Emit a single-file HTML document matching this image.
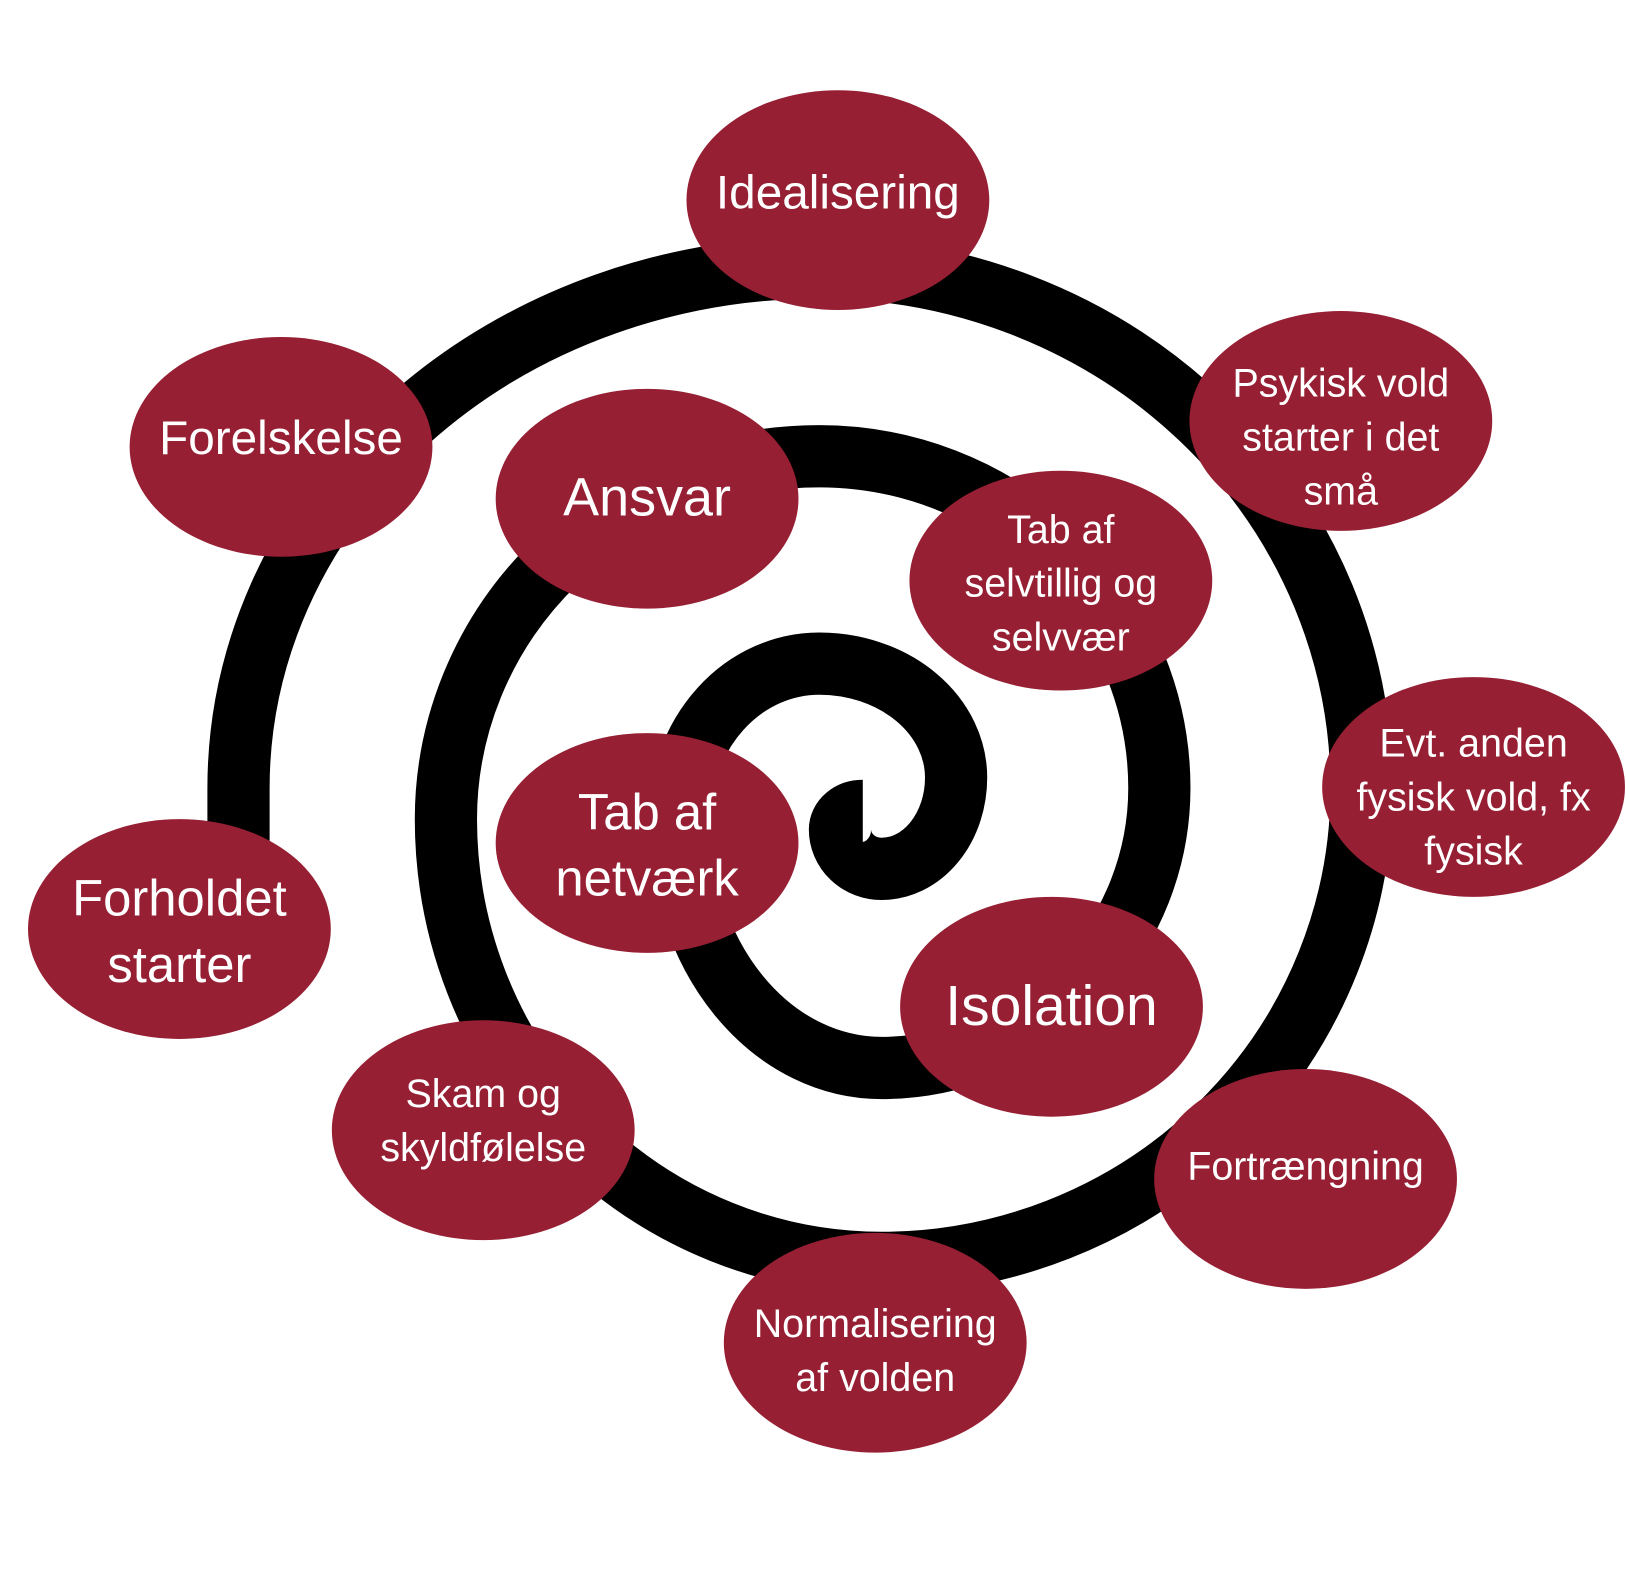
<!DOCTYPE html>
<html><head><meta charset="utf-8"><style>html,body{margin:0;padding:0;background:#fff}svg{display:block}</style></head>
<body>
<svg width="1626" height="1575" viewBox="0 0 1568 1519" preserveAspectRatio="none" xmlns="http://www.w3.org/2000/svg">
<path d="M230 840 L230 760 A560 502 0 0 1 790 258 A523 502 0 0 1 1313 760 A463 458 0 0 1 850 1218 A420 428 0 0 1 430 790 A360 350 0 0 1 790 440 A328 320 0 0 1 1118 760 A268 270 0 0 1 850 1030 A195 240 0 0 1 655 790 A135 150 0 0 1 790 640 A132 110 0 0 1 922 750 A72 88 0 0 1 850 838 A40 38 0 0 1 810 800 A22 18 0 0 1 832 782" fill="none" stroke="#000" stroke-width="60"/>
<g fill="#961f33">
<ellipse cx="808" cy="193" rx="146" ry="106"/>
<ellipse cx="1293" cy="406" rx="146" ry="106"/>
<ellipse cx="1421" cy="759" rx="146" ry="106"/>
<ellipse cx="1259" cy="1137" rx="146" ry="106"/>
<ellipse cx="844" cy="1295" rx="146" ry="106"/>
<ellipse cx="466" cy="1090" rx="146" ry="106"/>
<ellipse cx="173" cy="896" rx="146" ry="106"/>
<ellipse cx="271" cy="431" rx="146" ry="106"/>
<ellipse cx="624" cy="481" rx="146" ry="106"/>
<ellipse cx="1023" cy="560" rx="146" ry="106"/>
<ellipse cx="624" cy="813" rx="146" ry="106"/>
<ellipse cx="1014" cy="971" rx="146" ry="106"/>
</g>
<g fill="#fff" font-family="'Liberation Sans', sans-serif" text-anchor="middle" dominant-baseline="central">
<text x="808" y="186" font-size="46">Idealisering</text>
<text x="271" y="423" font-size="46">Forelskelse</text>
<text x="624" y="480" font-size="52">Ansvar</text>
<text x="1014" y="970" font-size="55">Isolation</text>
<g font-size="49"><text x="173" y="866">Forholdet</text><text x="173" y="930">starter</text>
<text x="624" y="783">Tab af</text><text x="624" y="847">netværk</text></g>
<g font-size="38">
<text x="1293" y="370">Psykisk vold</text><text x="1293" y="422">starter i det</text><text x="1293" y="474">små</text>
<text x="1023" y="511">Tab af</text><text x="1023" y="563">selvtillig og</text><text x="1023" y="615">selvvær</text>
<text x="1421" y="717">Evt. anden</text><text x="1421" y="769">fysisk vold, fx</text><text x="1421" y="821">fysisk</text>
<text x="1259" y="1125">Fortrængning</text>
<text x="844" y="1277">Normalisering</text><text x="844" y="1329">af volden</text>
<text x="466" y="1055">Skam og</text><text x="466" y="1107">skyldfølelse</text>
</g>
</g>
</svg>
</body></html>
